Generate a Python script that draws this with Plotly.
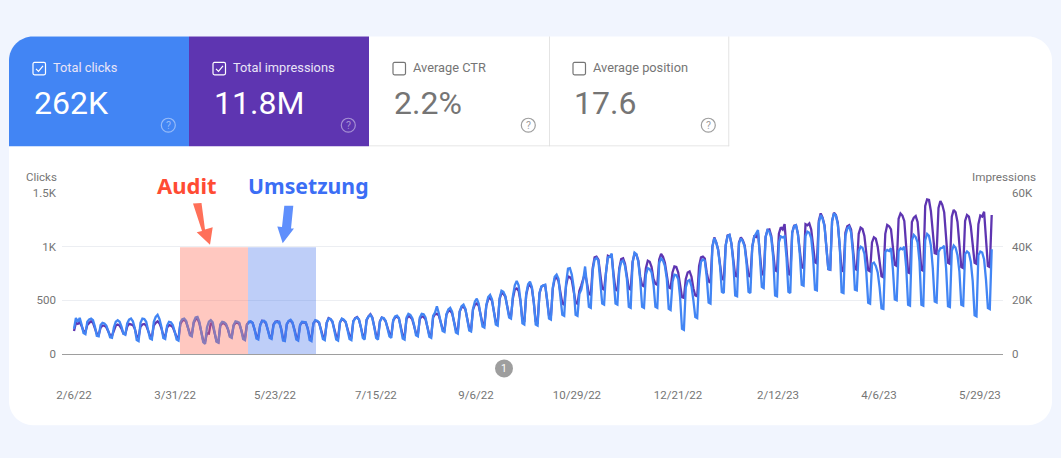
import numpy as np
import plotly.graph_objects as go

# daily values, one row per week (each row ends on the weekend dip)
clicks = [
    235,335,300,336,275,195,185,
    300,322,330,315,255,170,165,
    270,290,285,265,215,155,150,
    250,300,315,300,255,190,180,
    285,320,330,305,240,130,120,
    290,330,325,300,235,145,135,
    300,345,365,325,255,150,140,
    265,300,295,270,210,135,125,
    295,325,330,310,245,175,165,
    300,340,345,300,210,110,95,
    250,300,315,295,220,115,105,
    275,300,295,280,235,160,150,
    270,305,300,290,225,140,130,
    270,300,305,290,235,145,135,
    270,305,310,295,225,150,140,
    265,300,295,300,230,125,120,
    280,310,320,295,220,135,125,
    270,300,295,295,235,130,120,
    285,315,310,295,215,140,130,
    290,330,325,305,220,135,125,
    295,330,320,300,230,140,130,
    305,330,340,320,250,150,135,
    320,350,365,335,255,150,135,
    300,340,335,310,240,165,150,
    315,350,357,335,250,145,135,
    340,375,365,335,270,175,165,
    340,375,370,340,250,160,150,
    355,385,445,380,300,215,205,
    370,415,430,395,310,200,190,
    395,445,460,420,320,220,210,
    420,490,515,470,370,255,245,
    455,530,550,510,380,275,265,
    520,590,580,540,430,340,330,
    540,640,680,640,500,285,275,
    560,650,675,625,480,275,265,
    570,630,640,645,510,330,320,
    620,720,740,700,520,365,355,
    660,795,800,740,620,365,355,
    560,600,690,815,640,440,430,
    780,880,895,870,700,470,460,
    760,900,905,935,720,470,460,
    780,860,870,820,700,440,430,
    850,945,930,860,690,440,430,
    740,800,790,760,650,440,430,
    850,890,870,820,700,420,410,
    670,740,735,700,530,235,225,
    620,680,690,630,500,345,335,
    700,860,880,870,720,480,470,
    1000,1078,1040,970,820,580,568,
    1010,1100,1110,1030,850,545,537,
    1030,1078,1050,1000,840,580,568,
    1000,1090,1130,1155,900,625,614,
    1090,1155,1140,1080,900,545,537,
    1040,1095,1085,1095,900,580,568,
    1130,1190,1200,1120,930,645,636,
    1100,1140,1130,1080,900,600,593,
    1220,1295,1260,1190,1000,790,785,
    1240,1310,1290,1210,1020,575,568,
    1100,1170,1185,1130,930,600,593,
    960,1000,990,935,760,478,469,
    840,852,820,760,620,425,419,
    950,970,960,985,790,508,500,
    960,985,975,1000,810,458,450,
    1060,1110,1090,1040,860,458,450,
    1060,1118,1100,1010,800,490,481,
    950,985,990,1008,800,445,438,
    960,1010,990,920,770,458,450,
    930,955,940,860,680,360,351,
    920,955,945,880,690,428,419,
    976,
]

impressions = [
    8600,11600,11200,11800,10400,8600,8200,
    10800,11600,12200,11600,9600,7600,7200,
    9800,10600,10600,10000,8400,7000,6800,
    9000,10600,11000,10600,9400,7600,7400,
    10200,11200,11000,10800,9400,6600,6200,
    10200,11000,11200,10600,9000,6800,6400,
    10600,11600,12200,11400,9600,7000,6600,
    9800,10800,10600,10000,8200,6400,6000,
    11200,12400,12800,12000,9800,7600,7200,
    11600,13000,13200,11400,8200,5000,4600,
    7800,7600,11600,10800,8200,4800,4400,
    10600,11400,11400,10800,9200,6800,6400,
    10600,11600,11600,11200,9000,6400,6000,
    11000,11800,12000,11600,9600,6800,6400,
    10800,12400,12200,11400,9200,6600,6200,
    11000,12000,12200,11800,9600,6000,5600,
    11000,12200,12400,11600,9200,6400,6000,
    10800,11800,11800,11600,9600,6400,6000,
    11400,12400,12200,11600,9000,6600,6200,
    11600,13400,13000,12000,9000,6600,6200,
    11800,13000,12600,11800,9400,6800,6400,
    12200,13400,13800,12800,10000,7000,6600,
    12600,14000,14800,13600,10400,7000,6400,
    12200,13600,13200,12200,9800,7600,7000,
    12400,13600,14000,13200,10000,7000,6600,
    13000,14200,13800,13000,10600,7800,7400,
    13000,14000,13800,13000,10200,7200,6800,
    13600,14800,15000,14400,11800,9400,9000,
    14600,16000,16200,15200,12200,9000,8600,
    15800,17400,17600,16600,13000,9600,9200,
    16600,18400,18800,18000,14800,11400,11000,
    18000,20400,21000,19800,15400,12000,11600,
    20400,22800,22400,21400,17200,14400,14000,
    20800,24000,24400,23600,19600,12600,12000,
    22000,25200,25800,24400,19200,12200,11800,
    22600,25000,25600,25600,20400,14400,14000,
    24400,28000,28600,27200,22000,18800,18400,
    25600,28900,28600,27600,24000,19200,18700,
    23600,25600,28000,30200,26400,22400,22100,
    32000,36000,36300,35200,29200,24400,24000,
    31600,36600,36200,36600,29600,24000,23600,
    32000,35400,35700,33600,28800,24400,24000,
    34400,37300,37000,34800,28800,25600,25200,
    32000,34800,34400,32400,28000,26200,25800,
    35200,37300,36200,34000,29600,24800,24500,
    30400,32600,32400,30400,25600,21200,20900,
    28000,30400,30800,28800,24400,21800,21500,
    32800,36000,36300,35600,30400,27000,26600,
    40000,43400,41600,39000,33200,28000,27700,
    40600,44200,44400,41200,34400,29200,28900,
    41600,43500,42400,40400,34400,29200,28900,
    40000,43800,43600,45200,36000,29800,29500,
    43600,46200,46400,44000,36800,31200,30800,
    44800,47200,46400,48400,39200,29800,29500,
    45200,47800,48000,44800,38000,32400,32000,
    48400,48000,48700,46400,40000,34200,33800,
    49600,52400,50800,48000,40000,31600,31400,
    49600,52600,51800,48800,41200,31200,30800,
    45200,47600,48000,46400,39200,31800,31400,
    44800,47100,46600,44000,36800,31200,30800,
    41600,43500,43000,40000,34800,29000,28600,
    44800,48100,47600,46400,39200,33200,32800,
    50400,52400,51600,49600,40000,30400,30100,
    49200,50800,51400,49200,40400,31400,31000,
    55200,57600,57400,53200,44000,37600,37300,
    54400,57000,55600,52800,42000,34000,33600,
    51200,53700,52800,49200,40000,32400,32000,
    49600,51800,51200,47600,40800,34000,33600,
    48400,51600,51200,53000,40800,32800,32400,
    51800,
]

date_labels = ["2/6/22", "3/31/22", "5/23/22", "7/15/22", "9/6/22",
               "10/29/22", "12/21/22", "2/12/23", "4/6/23", "5/29/23"]
label_days = [0, 53.2, 105.8, 158.9, 211.6, 264.7, 317.9, 370.5, 423.7, 476.8]

tiles = ["Total clicks", "Total impressions", "Average CTR", "Average position"]
tile_values = ["262K", "11.8M", "2.2%", "17.6"]

BLUE = "#4285f4"
PURPLE = "#5e35b1"
GREY = "#757575"
FONT = "Roboto"

W, H = 1061, 458
L, R, T, B = 62, 1003, 193, 354.5


def px(x):
    return (x - L) / (R - L)


def py(y):
    return (B - y) / (B - T)


def poly(points):
    # svg path in paper coordinates, from picture pixels
    return "M " + " L ".join(f"{px(x):.5f},{py(y):.5f}" for x, y in points) + " Z"


shapes = []


def add_path(path, fill="rgba(0,0,0,0)", line=None, width=1, layer="above"):
    shapes.append(dict(type="path", xref="paper", yref="paper", path=path, fillcolor=fill,
                       line=dict(color=line or "rgba(0,0,0,0)", width=width if line else 0), layer=layer))


def add_rect(x0, y0, x1, y1, fill, line=None, width=1, layer="below"):
    shapes.append(dict(type="rect", xref="paper", yref="paper", x0=px(x0), x1=px(x1), y0=py(y0), y1=py(y1),
                       fillcolor=fill, line=dict(color=line or "rgba(0,0,0,0)", width=width if line else 0),
                       layer=layer))


def add_circle(cx, cy, r, fill, line=None, width=1):
    shapes.append(dict(type="circle", xref="paper", yref="paper", x0=px(cx - r), x1=px(cx + r),
                       y0=py(cy + r), y1=py(cy - r), fillcolor=fill,
                       line=dict(color=line or "rgba(0,0,0,0)", width=width if line else 0), layer="above"))


notes = []


def add_text(x, y, text, size, color, anchor="left", family=FONT, bold=False):
    notes.append(dict(xref="paper", yref="paper", x=px(x), y=py(y), text=f"<b>{text}</b>" if bold else text,
                      showarrow=False, xanchor=anchor, yanchor="middle", borderpad=0,
                      font=dict(family=family, size=size, color=color)))


def rounded(x0, y0, x1, y1, r, corners="tl tr br bl"):
    # rounded rectangle as curves, used for the card and the first tile
    k = r * 0.45
    p = lambda x, y: f"{px(x):.5f},{py(y):.5f}"
    d = "M " + p(x0 + (r if "tl" in corners else 0), y0)
    d += " L " + p(x1 - (r if "tr" in corners else 0), y0)
    if "tr" in corners:
        d += f" C {p(x1 - k, y0)} {p(x1, y0 + k)} {p(x1, y0 + r)}"
    d += " L " + p(x1, y1 - (r if "br" in corners else 0))
    if "br" in corners:
        d += f" C {p(x1, y1 - k)} {p(x1 - k, y1)} {p(x1 - r, y1)}"
    d += " L " + p(x0 + (r if "bl" in corners else 0), y1)
    if "bl" in corners:
        d += f" C {p(x0 + k, y1)} {p(x0, y1 - k)} {p(x0, y1 - r)}"
    d += " L " + p(x0, y0 + (r if "tl" in corners else 0))
    if "tl" in corners:
        d += f" C {p(x0, y0 + k)} {p(x0 + k, y0)} {p(x0 + r, y0)}"
    return d + " Z"


# card and metric tiles
add_path(rounded(9, 36, 1052, 426, 24), fill="#ffffff", layer="below")
add_path(rounded(9, 36, 189, 146, 24, corners="tl"), fill=BLUE, layer="below")
add_rect(189, 36, 369, 146, PURPLE)
add_rect(549, 36, 549.8, 146, "#dddddd")
add_rect(728.4, 36, 729.2, 146, "#dddddd")
add_rect(369, 145.4, 729.2, 146.2, "#dddddd")

for i, (name, value) in enumerate(zip(tiles, tile_values)):
    x0 = 33 + 180 * i
    on = i < 2
    color = "#ffffff" if on else GREY
    add_path(rounded(x0, 62, x0 + 12.5, 74.5, 1.5), line="#ffffff" if on else GREY, width=1.2)
    if on:
        add_path(f"M {px(x0 + 3)},{py(68.5)} L {px(x0 + 5.5)},{py(71)} L {px(x0 + 10)},{py(65.5)}",
                 line="#ffffff", width=1.2)
    add_text(x0 + 18.6, 67.6, name, 12.8, "#e9e4f7" if on else GREY)
    add_text(x0, 103, value, 32, color)
    icon = "rgba(255,255,255,0.45)" if on else "#9e9e9e"
    add_circle(x0 + 135.3, 125, 7, "rgba(0,0,0,0)", line=icon, width=1.2)
    add_text(x0 + 135.3, 125, "?", 10.5, icon, anchor="center")

# audit / implementation periods, drawn over the lines
add_rect(180, 247.5, 248, B, "rgba(255,105,85,0.37)", layer="above")
add_rect(248, 247.5, 316, B, "rgba(70,115,235,0.35)", layer="above")

add_text(186.5, 185, "Audit", 22, "#ff4b33", anchor="center", family="Noto Sans", bold=True)
add_text(308, 185, "Umsetzung", 21.2, "#3b6ef5", anchor="center", family="Noto Sans", bold=True)
add_path(poly([(193, 203.5), (201.5, 203), (205, 229.5), (212.7, 227.3), (210, 245), (196.7, 232.3), (202, 231)]),
         fill="#ff7059")
add_path(poly([(284.3, 205.7), (293.3, 205.7), (291, 228.5), (294, 228.7), (282.7, 243.3), (277.3, 226.7), (282, 227)]),
         fill="#5f8ffc")

# axis titles and the event marker
add_text(25, 177, "Clicks", 11.5, GREY)
add_text(1037, 177, "Impressions", 11.7, GREY, anchor="right")
add_circle(504, 369, 9, "#9e9e9e")
add_text(504, 369, "1", 10.5, "#ffffff", anchor="center")

days = np.arange(len(clicks))

fig = go.Figure()
fig.add_trace(go.Scatter(x=days, y=impressions, mode="lines", yaxis="y2",
                         line=dict(color=PURPLE, width=2.3), showlegend=False))
fig.add_trace(go.Scatter(x=days, y=clicks, mode="lines", yaxis="y",
                         line=dict(color=BLUE, width=2.3), showlegend=False))
fig.update_layout(
    width=W, height=H,
    margin=dict(l=L, r=W - R, t=T, b=H - B, autoexpand=False),
    paper_bgcolor="#f1f5fe", plot_bgcolor="rgba(0,0,0,0)",
    font=dict(family=FONT, size=11.5, color=GREY),
    shapes=shapes, annotations=notes,
    xaxis=dict(range=[-6.316, 488.95], tickvals=label_days, ticktext=date_labels, showgrid=False,
               zeroline=False, showline=True, linecolor="#9e9e9e", linewidth=1, ticks="",
               ticklabelstandoff=30, tickfont=dict(size=11.5, color=GREY)),
    # clicks sit on top of impressions, so the grid belongs to the lower axis
    yaxis=dict(range=[0, 1500], overlaying="y2", tickvals=[0, 500, 1000, 1500],
               ticktext=["0", "500", "1K", "1.5K"], showgrid=False, zeroline=False, ticks="",
               ticklabelstandoff=5, tickfont=dict(size=11.5, color=GREY)),
    yaxis2=dict(range=[0, 60000], side="right", tickvals=[0, 20000, 40000, 60000],
                ticktext=["0", "20K", "40K", "60K"], gridcolor="#eceef2", zeroline=False, ticks="",
                ticklabelstandoff=8, tickfont=dict(size=11.5, color=GREY)),
)

fig.write_html("out.html", config=dict(displayModeBar=False), post_script="document.body.style.margin='0';")
